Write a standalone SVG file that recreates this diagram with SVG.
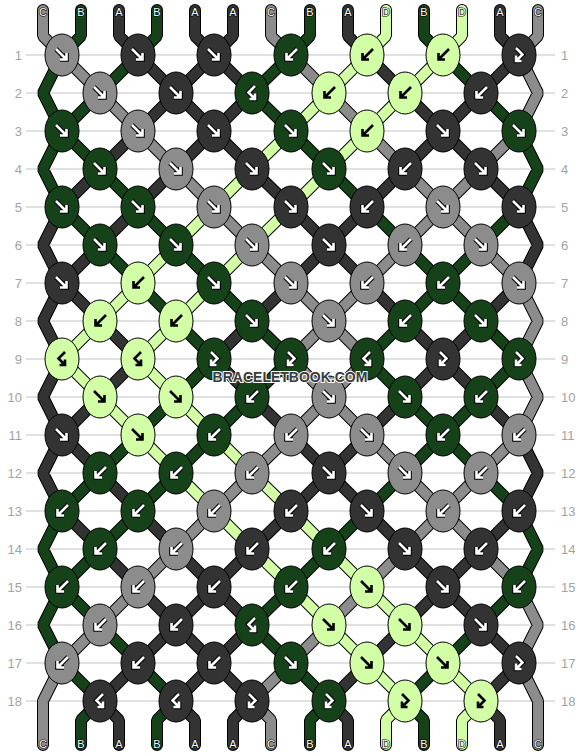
<svg xmlns="http://www.w3.org/2000/svg" xmlns:xlink="http://www.w3.org/1999/xlink" width="582" height="756" viewBox="0 0 582 756">
<style>
text{font-family:"Liberation Sans",Arial,sans-serif}
.rl{stroke:#c4c4c4;stroke-width:1.2}
.rn{font-size:13px;fill:#a3a3a3}
.rnl{text-anchor:end}
.o{fill:none;stroke:#000;stroke-width:12;stroke-linecap:round;stroke-linejoin:bevel}
.c{fill:none;stroke-width:10;stroke-linecap:round;stroke-linejoin:bevel}
.sA{stroke:#333333}.sB{stroke:#16421a}.sC{stroke:#8c8c8c}.sD{stroke:#d2ffa6}
ellipse{stroke:#000;stroke-width:1}
.eA{fill:#333333}.eB{fill:#16421a}.eC{fill:#8c8c8c}.eD{fill:#d2ffa6}
.ao{fill:none;stroke:#000;stroke-width:4.6}
.aw{fill:none;stroke:#fff;stroke-width:2.6}
.ak{fill:none;stroke:#000;stroke-width:2.6}
.lb{font-size:11px;fill:#fff;text-anchor:middle;stroke:#000;stroke-width:1.2;paint-order:stroke}
.wm{font-size:14px;font-weight:bold;fill:#3a3a3a;stroke:#fff;stroke-width:2;paint-order:stroke;text-anchor:middle}
</style>
<defs>
<path id="af" d="M-6-6L4.5 4.5M4.5-2V4.5H-2"/>
<path id="ab" d="M6-6L-4.5 4.5M-4.5-2V4.5H2"/>
<path id="afb" d="M-3-7L3.5-0.5L-3 6M-3 0.5V6H2.5"/>
<path id="abf" d="M3-7L-3.5-0.5L3 6M3 0.5V6H-2.5"/>
<g id="wf"><use href="#af" class="ao"/><use href="#af" class="aw"/></g>
<g id="wb"><use href="#ab" class="ao"/><use href="#ab" class="aw"/></g>
<g id="wfb"><use href="#afb" class="ao"/><use href="#afb" class="aw"/></g>
<g id="wbf"><use href="#abf" class="ao"/><use href="#abf" class="aw"/></g>
<use id="kf" href="#af" class="ak"/>
<use id="kb" href="#ab" class="ak"/>
<use id="kfb" href="#afb" class="ak"/>
<use id="kbf" href="#abf" class="ak"/>
<path id="pA" d="M119 10V36L138 55M195 10V36L214 55M233 10V36L214 55M348 10V36L367 55M500 10V36L519 55M100 701L119 720V745M176 701L195 720V745M252 701L233 720V745M329 701L348 720V745M481 701L500 720V745M62 207L43 245L62 283M62 283L43 321L62 359M62 359L43 397L62 435M62 435L43 473L62 511M519 207L538 245L519 283M519 435L538 473L519 511M138 55L176 93M214 55L176 93M214 55L252 93M367 55L405 93M519 55L481 93M176 93L138 131M176 93L214 131M252 93L214 131M405 93L443 131M481 93L443 131M138 131L100 169M214 131L176 169M214 131L252 169M443 131L405 169M443 131L481 169M100 169L62 207M176 169L138 207M252 169L291 207M405 169L367 207M481 169L519 207M138 207L100 245M291 207L329 245M367 207L329 245M100 245L62 283M329 245L291 283M329 245L367 283M62 283L100 321M291 283L252 321M367 283L405 321M519 283L481 321M100 321L138 359M252 321L214 359M405 321L443 359M481 321L443 359M138 359L100 397M214 359L252 397M443 359L405 397M443 359L481 397M100 397L62 435M252 397L291 435M405 397L367 435M481 397L519 435M62 435L100 473M291 435L329 473M367 435L329 473M100 473L138 511M329 473L291 511M329 473L367 511M62 511L100 549M138 511L176 549M291 511L252 549M367 511L405 549M519 511L481 549M100 549L138 587M176 549L214 587M252 549L214 587M405 549L443 587M481 549L443 587M138 587L176 625M214 587L176 625M214 587L252 625M443 587L405 625M443 587L481 625M176 625L138 663M176 625L214 663M252 625L214 663M405 625L367 663M481 625L519 663M138 663L100 701M214 663L176 701M214 663L252 701M367 663L329 701M519 663L481 701"/>
<path id="pB" d="M81 10V36L62 55M157 10V36L138 55M310 10V36L291 55M424 10V36L443 55M100 701L81 720V745M176 701L157 720V745M329 701L310 720V745M405 701L424 720V745M62 55L43 93L62 131M62 131L43 169L62 207M62 511L43 549L62 587M62 587L43 625L62 663M519 131L538 169L519 207M519 511L538 549L519 587M138 55L100 93M291 55L252 93M443 55L481 93M100 93L62 131M252 93L291 131M481 93L519 131M62 131L100 169M291 131L329 169M100 169L138 207M329 169L367 207M62 207L100 245M138 207L176 245M367 207L405 245M519 207L481 245M100 245L138 283M176 245L214 283M405 245L443 283M481 245L443 283M138 283L176 321M214 283L252 321M443 283L405 321M443 283L481 321M176 321L214 359M252 321L291 359M405 321L367 359M481 321L519 359M214 359L176 397M291 359L252 397M367 359L405 397M519 359L481 397M176 397L138 435M252 397L214 435M405 397L443 435M481 397L443 435M138 435L100 473M214 435L176 473M443 435L405 473M443 435L481 473M100 473L62 511M176 473L138 511M405 473L367 511M481 473L519 511M138 511L100 549M367 511L329 549M100 549L62 587M329 549L291 587M62 587L100 625M291 587L252 625M519 587L481 625M100 625L138 663M252 625L291 663M481 625L443 663M62 663L100 701M138 663L176 701M291 663L329 701M443 663L405 701"/>
<path id="pC" d="M43 10V36L62 55M271 10V36L291 55M538 10V36L519 55M252 701L271 720V745M62 663L43 701V745M519 55L538 93L519 131M519 283L538 321L519 359M519 359L538 397L519 435M519 587L538 625L519 663M519 663L538 701V745M62 55L100 93M291 55L329 93M100 93L138 131M329 93L367 131M138 131L176 169M367 131L405 169M519 131L481 169M176 169L214 207M405 169L443 207M481 169L443 207M214 207L252 245M443 207L405 245M443 207L481 245M252 245L291 283M405 245L367 283M481 245L519 283M291 283L329 321M367 283L329 321M329 321L291 359M329 321L367 359M291 359L329 397M367 359L329 397M329 397L291 435M329 397L367 435M291 435L252 473M367 435L405 473M519 435L481 473M252 473L214 511M405 473L443 511M481 473L443 511M214 511L176 549M443 511L405 549M443 511L481 549M176 549L138 587M405 549L367 587M481 549L519 587M138 587L100 625M367 587L329 625M100 625L62 663M329 625L291 663M291 663L252 701"/>
<path id="pD" d="M386 10V36L367 55M462 10V36L443 55M405 701L386 720V745M481 701L462 720V745M367 55L329 93M443 55L405 93M329 93L291 131M405 93L367 131M291 131L252 169M367 131L329 169M252 169L214 207M329 169L291 207M214 207L176 245M291 207L252 245M176 245L138 283M252 245L214 283M138 283L100 321M214 283L176 321M100 321L62 359M176 321L138 359M62 359L100 397M138 359L176 397M100 397L138 435M176 397L214 435M138 435L176 473M214 435L252 473M176 473L214 511M252 473L291 511M214 511L252 549M291 511L329 549M252 549L291 587M329 549L367 587M291 587L329 625M367 587L405 625M329 625L367 663M405 625L443 663M367 663L405 701M443 663L481 701"/>
</defs>
<rect width="582" height="756" fill="#fff"/>
<g id="rows">
<path class="rl" d="M26 55H555M26 93H555M26 131H555M26 169H555M26 207H555M26 245H555M26 283H555M26 321H555M26 359H555M26 397H555M26 435H555M26 473H555M26 511H555M26 549H555M26 587H555M26 625H555M26 663H555M26 701H555"/>
<g class="rn rnl">
<text x="22" y="59.5">1</text><text x="22" y="97.5">2</text><text x="22" y="135.5">3</text><text x="22" y="173.5">4</text><text x="22" y="211.5">5</text><text x="22" y="249.5">6</text><text x="22" y="287.5">7</text><text x="22" y="325.5">8</text><text x="22" y="363.5">9</text><text x="22" y="401.5">10</text><text x="22" y="439.5">11</text><text x="22" y="477.5">12</text><text x="22" y="515.5">13</text><text x="22" y="553.5">14</text><text x="22" y="591.5">15</text><text x="22" y="629.5">16</text><text x="22" y="667.5">17</text><text x="22" y="705.5">18</text>
</g>
<g class="rn">
<text x="561" y="59.5">1</text><text x="561" y="97.5">2</text><text x="561" y="135.5">3</text><text x="561" y="173.5">4</text><text x="561" y="211.5">5</text><text x="561" y="249.5">6</text><text x="561" y="287.5">7</text><text x="561" y="325.5">8</text><text x="561" y="363.5">9</text><text x="561" y="401.5">10</text><text x="561" y="439.5">11</text><text x="561" y="477.5">12</text><text x="561" y="515.5">13</text><text x="561" y="553.5">14</text><text x="561" y="591.5">15</text><text x="561" y="629.5">16</text><text x="561" y="667.5">17</text><text x="561" y="705.5">18</text>
</g>
</g>
<g id="connectors">
<use href="#pA" class="o"/><use href="#pB" class="o"/><use href="#pC" class="o"/><use href="#pD" class="o"/>
<use href="#pA" class="c sA"/><use href="#pB" class="c sB"/><use href="#pC" class="c sC"/><use href="#pD" class="c sD"/>
</g>
<g id="labels" class="lb">
<text x="43" y="16">C</text><text x="81" y="16">B</text><text x="119" y="16">A</text><text x="157" y="16">B</text><text x="195" y="16">A</text><text x="233" y="16">A</text><text x="271" y="16">C</text><text x="310" y="16">B</text><text x="348" y="16">A</text><text x="386" y="16">D</text><text x="424" y="16">B</text><text x="462" y="16">D</text><text x="500" y="16">A</text><text x="538" y="16">C</text>
<text x="43" y="748">C</text><text x="81" y="748">B</text><text x="119" y="748">A</text><text x="157" y="748">B</text><text x="195" y="748">A</text><text x="233" y="748">A</text><text x="271" y="748">C</text><text x="310" y="748">B</text><text x="348" y="748">A</text><text x="386" y="748">D</text><text x="424" y="748">B</text><text x="462" y="748">D</text><text x="500" y="748">A</text><text x="538" y="748">C</text>
</g>
<g id="knots">
<g id="k1-1" transform="translate(62 55)"><ellipse class="eC" rx="17" ry="21"/><use href="#wf"/></g>
<g id="k1-2" transform="translate(138 55)"><ellipse class="eA" rx="17" ry="21"/><use href="#wf"/></g>
<g id="k1-3" transform="translate(214 55)"><ellipse class="eA" rx="17" ry="21"/><use href="#wf"/></g>
<g id="k1-4" transform="translate(291 55)"><ellipse class="eB" rx="17" ry="21"/><use href="#wb"/></g>
<g id="k1-5" transform="translate(367 55)"><ellipse class="eD" rx="17" ry="21"/><use href="#kb"/></g>
<g id="k1-6" transform="translate(443 55)"><ellipse class="eD" rx="17" ry="21"/><use href="#kb"/></g>
<g id="k1-7" transform="translate(519 55)"><ellipse class="eA" rx="17" ry="21"/><use href="#wfb"/></g>
<g id="k2-1" transform="translate(100 93)"><ellipse class="eC" rx="17" ry="21"/><use href="#wf"/></g>
<g id="k2-2" transform="translate(176 93)"><ellipse class="eA" rx="17" ry="21"/><use href="#wf"/></g>
<g id="k2-3" transform="translate(252 93)"><ellipse class="eB" rx="17" ry="21"/><use href="#wbf"/></g>
<g id="k2-4" transform="translate(329 93)"><ellipse class="eD" rx="17" ry="21"/><use href="#kb"/></g>
<g id="k2-5" transform="translate(405 93)"><ellipse class="eD" rx="17" ry="21"/><use href="#kb"/></g>
<g id="k2-6" transform="translate(481 93)"><ellipse class="eA" rx="17" ry="21"/><use href="#wb"/></g>
<g id="k3-1" transform="translate(62 131)"><ellipse class="eB" rx="17" ry="21"/><use href="#wf"/></g>
<g id="k3-2" transform="translate(138 131)"><ellipse class="eC" rx="17" ry="21"/><use href="#wf"/></g>
<g id="k3-3" transform="translate(214 131)"><ellipse class="eA" rx="17" ry="21"/><use href="#wf"/></g>
<g id="k3-4" transform="translate(291 131)"><ellipse class="eB" rx="17" ry="21"/><use href="#wf"/></g>
<g id="k3-5" transform="translate(367 131)"><ellipse class="eD" rx="17" ry="21"/><use href="#kb"/></g>
<g id="k3-6" transform="translate(443 131)"><ellipse class="eA" rx="17" ry="21"/><use href="#wf"/></g>
<g id="k3-7" transform="translate(519 131)"><ellipse class="eB" rx="17" ry="21"/><use href="#wf"/></g>
<g id="k4-1" transform="translate(100 169)"><ellipse class="eB" rx="17" ry="21"/><use href="#wf"/></g>
<g id="k4-2" transform="translate(176 169)"><ellipse class="eC" rx="17" ry="21"/><use href="#wf"/></g>
<g id="k4-3" transform="translate(252 169)"><ellipse class="eA" rx="17" ry="21"/><use href="#wf"/></g>
<g id="k4-4" transform="translate(329 169)"><ellipse class="eB" rx="17" ry="21"/><use href="#wf"/></g>
<g id="k4-5" transform="translate(405 169)"><ellipse class="eA" rx="17" ry="21"/><use href="#wb"/></g>
<g id="k4-6" transform="translate(481 169)"><ellipse class="eA" rx="17" ry="21"/><use href="#wf"/></g>
<g id="k5-1" transform="translate(62 207)"><ellipse class="eB" rx="17" ry="21"/><use href="#wf"/></g>
<g id="k5-2" transform="translate(138 207)"><ellipse class="eB" rx="17" ry="21"/><use href="#wf"/></g>
<g id="k5-3" transform="translate(214 207)"><ellipse class="eC" rx="17" ry="21"/><use href="#wf"/></g>
<g id="k5-4" transform="translate(291 207)"><ellipse class="eA" rx="17" ry="21"/><use href="#wf"/></g>
<g id="k5-5" transform="translate(367 207)"><ellipse class="eA" rx="17" ry="21"/><use href="#wb"/></g>
<g id="k5-6" transform="translate(443 207)"><ellipse class="eC" rx="17" ry="21"/><use href="#wf"/></g>
<g id="k5-7" transform="translate(519 207)"><ellipse class="eA" rx="17" ry="21"/><use href="#wf"/></g>
<g id="k6-1" transform="translate(100 245)"><ellipse class="eB" rx="17" ry="21"/><use href="#wf"/></g>
<g id="k6-2" transform="translate(176 245)"><ellipse class="eB" rx="17" ry="21"/><use href="#wf"/></g>
<g id="k6-3" transform="translate(252 245)"><ellipse class="eC" rx="17" ry="21"/><use href="#wf"/></g>
<g id="k6-4" transform="translate(329 245)"><ellipse class="eA" rx="17" ry="21"/><use href="#wf"/></g>
<g id="k6-5" transform="translate(405 245)"><ellipse class="eC" rx="17" ry="21"/><use href="#wb"/></g>
<g id="k6-6" transform="translate(481 245)"><ellipse class="eC" rx="17" ry="21"/><use href="#wf"/></g>
<g id="k7-1" transform="translate(62 283)"><ellipse class="eA" rx="17" ry="21"/><use href="#wf"/></g>
<g id="k7-2" transform="translate(138 283)"><ellipse class="eD" rx="17" ry="21"/><use href="#kb"/></g>
<g id="k7-3" transform="translate(214 283)"><ellipse class="eB" rx="17" ry="21"/><use href="#wf"/></g>
<g id="k7-4" transform="translate(291 283)"><ellipse class="eC" rx="17" ry="21"/><use href="#wf"/></g>
<g id="k7-5" transform="translate(367 283)"><ellipse class="eC" rx="17" ry="21"/><use href="#wb"/></g>
<g id="k7-6" transform="translate(443 283)"><ellipse class="eB" rx="17" ry="21"/><use href="#wb"/></g>
<g id="k7-7" transform="translate(519 283)"><ellipse class="eC" rx="17" ry="21"/><use href="#wf"/></g>
<g id="k8-1" transform="translate(100 321)"><ellipse class="eD" rx="17" ry="21"/><use href="#kb"/></g>
<g id="k8-2" transform="translate(176 321)"><ellipse class="eD" rx="17" ry="21"/><use href="#kb"/></g>
<g id="k8-3" transform="translate(252 321)"><ellipse class="eB" rx="17" ry="21"/><use href="#wf"/></g>
<g id="k8-4" transform="translate(329 321)"><ellipse class="eC" rx="17" ry="21"/><use href="#wf"/></g>
<g id="k8-5" transform="translate(405 321)"><ellipse class="eB" rx="17" ry="21"/><use href="#wb"/></g>
<g id="k8-6" transform="translate(481 321)"><ellipse class="eB" rx="17" ry="21"/><use href="#wf"/></g>
<g id="k9-1" transform="translate(62 359)"><ellipse class="eD" rx="17" ry="21"/><use href="#kbf"/></g>
<g id="k9-2" transform="translate(138 359)"><ellipse class="eD" rx="17" ry="21"/><use href="#kbf"/></g>
<g id="k9-3" transform="translate(214 359)"><ellipse class="eB" rx="17" ry="21"/><use href="#wfb"/></g>
<g id="k9-4" transform="translate(291 359)"><ellipse class="eB" rx="17" ry="21"/><use href="#wfb"/></g>
<g id="k9-5" transform="translate(367 359)"><ellipse class="eB" rx="17" ry="21"/><use href="#wbf"/></g>
<g id="k9-6" transform="translate(443 359)"><ellipse class="eA" rx="17" ry="21"/><use href="#wfb"/></g>
<g id="k9-7" transform="translate(519 359)"><ellipse class="eB" rx="17" ry="21"/><use href="#wfb"/></g>
<g id="k10-1" transform="translate(100 397)"><ellipse class="eD" rx="17" ry="21"/><use href="#kf"/></g>
<g id="k10-2" transform="translate(176 397)"><ellipse class="eD" rx="17" ry="21"/><use href="#kf"/></g>
<g id="k10-3" transform="translate(252 397)"><ellipse class="eB" rx="17" ry="21"/><use href="#wb"/></g>
<g id="k10-4" transform="translate(329 397)"><ellipse class="eC" rx="17" ry="21"/><use href="#wf"/></g>
<g id="k10-5" transform="translate(405 397)"><ellipse class="eB" rx="17" ry="21"/><use href="#wf"/></g>
<g id="k10-6" transform="translate(481 397)"><ellipse class="eB" rx="17" ry="21"/><use href="#wb"/></g>
<g id="k11-1" transform="translate(62 435)"><ellipse class="eA" rx="17" ry="21"/><use href="#wf"/></g>
<g id="k11-2" transform="translate(138 435)"><ellipse class="eD" rx="17" ry="21"/><use href="#kf"/></g>
<g id="k11-3" transform="translate(214 435)"><ellipse class="eB" rx="17" ry="21"/><use href="#wb"/></g>
<g id="k11-4" transform="translate(291 435)"><ellipse class="eC" rx="17" ry="21"/><use href="#wb"/></g>
<g id="k11-5" transform="translate(367 435)"><ellipse class="eC" rx="17" ry="21"/><use href="#wf"/></g>
<g id="k11-6" transform="translate(443 435)"><ellipse class="eB" rx="17" ry="21"/><use href="#wb"/></g>
<g id="k11-7" transform="translate(519 435)"><ellipse class="eC" rx="17" ry="21"/><use href="#wb"/></g>
<g id="k12-1" transform="translate(100 473)"><ellipse class="eB" rx="17" ry="21"/><use href="#wb"/></g>
<g id="k12-2" transform="translate(176 473)"><ellipse class="eB" rx="17" ry="21"/><use href="#wb"/></g>
<g id="k12-3" transform="translate(252 473)"><ellipse class="eC" rx="17" ry="21"/><use href="#wb"/></g>
<g id="k12-4" transform="translate(329 473)"><ellipse class="eA" rx="17" ry="21"/><use href="#wf"/></g>
<g id="k12-5" transform="translate(405 473)"><ellipse class="eC" rx="17" ry="21"/><use href="#wf"/></g>
<g id="k12-6" transform="translate(481 473)"><ellipse class="eC" rx="17" ry="21"/><use href="#wb"/></g>
<g id="k13-1" transform="translate(62 511)"><ellipse class="eB" rx="17" ry="21"/><use href="#wb"/></g>
<g id="k13-2" transform="translate(138 511)"><ellipse class="eB" rx="17" ry="21"/><use href="#wb"/></g>
<g id="k13-3" transform="translate(214 511)"><ellipse class="eC" rx="17" ry="21"/><use href="#wb"/></g>
<g id="k13-4" transform="translate(291 511)"><ellipse class="eA" rx="17" ry="21"/><use href="#wb"/></g>
<g id="k13-5" transform="translate(367 511)"><ellipse class="eA" rx="17" ry="21"/><use href="#wf"/></g>
<g id="k13-6" transform="translate(443 511)"><ellipse class="eC" rx="17" ry="21"/><use href="#wb"/></g>
<g id="k13-7" transform="translate(519 511)"><ellipse class="eA" rx="17" ry="21"/><use href="#wb"/></g>
<g id="k14-1" transform="translate(100 549)"><ellipse class="eB" rx="17" ry="21"/><use href="#wb"/></g>
<g id="k14-2" transform="translate(176 549)"><ellipse class="eC" rx="17" ry="21"/><use href="#wb"/></g>
<g id="k14-3" transform="translate(252 549)"><ellipse class="eA" rx="17" ry="21"/><use href="#wb"/></g>
<g id="k14-4" transform="translate(329 549)"><ellipse class="eB" rx="17" ry="21"/><use href="#wb"/></g>
<g id="k14-5" transform="translate(405 549)"><ellipse class="eA" rx="17" ry="21"/><use href="#wf"/></g>
<g id="k14-6" transform="translate(481 549)"><ellipse class="eA" rx="17" ry="21"/><use href="#wb"/></g>
<g id="k15-1" transform="translate(62 587)"><ellipse class="eB" rx="17" ry="21"/><use href="#wb"/></g>
<g id="k15-2" transform="translate(138 587)"><ellipse class="eC" rx="17" ry="21"/><use href="#wb"/></g>
<g id="k15-3" transform="translate(214 587)"><ellipse class="eA" rx="17" ry="21"/><use href="#wb"/></g>
<g id="k15-4" transform="translate(291 587)"><ellipse class="eB" rx="17" ry="21"/><use href="#wb"/></g>
<g id="k15-5" transform="translate(367 587)"><ellipse class="eD" rx="17" ry="21"/><use href="#kf"/></g>
<g id="k15-6" transform="translate(443 587)"><ellipse class="eA" rx="17" ry="21"/><use href="#wf"/></g>
<g id="k15-7" transform="translate(519 587)"><ellipse class="eB" rx="17" ry="21"/><use href="#wb"/></g>
<g id="k16-1" transform="translate(100 625)"><ellipse class="eC" rx="17" ry="21"/><use href="#wb"/></g>
<g id="k16-2" transform="translate(176 625)"><ellipse class="eA" rx="17" ry="21"/><use href="#wb"/></g>
<g id="k16-3" transform="translate(252 625)"><ellipse class="eB" rx="17" ry="21"/><use href="#wbf"/></g>
<g id="k16-4" transform="translate(329 625)"><ellipse class="eD" rx="17" ry="21"/><use href="#kf"/></g>
<g id="k16-5" transform="translate(405 625)"><ellipse class="eD" rx="17" ry="21"/><use href="#kf"/></g>
<g id="k16-6" transform="translate(481 625)"><ellipse class="eA" rx="17" ry="21"/><use href="#wf"/></g>
<g id="k17-1" transform="translate(62 663)"><ellipse class="eC" rx="17" ry="21"/><use href="#wb"/></g>
<g id="k17-2" transform="translate(138 663)"><ellipse class="eA" rx="17" ry="21"/><use href="#wb"/></g>
<g id="k17-3" transform="translate(214 663)"><ellipse class="eA" rx="17" ry="21"/><use href="#wb"/></g>
<g id="k17-4" transform="translate(291 663)"><ellipse class="eB" rx="17" ry="21"/><use href="#wf"/></g>
<g id="k17-5" transform="translate(367 663)"><ellipse class="eD" rx="17" ry="21"/><use href="#kf"/></g>
<g id="k17-6" transform="translate(443 663)"><ellipse class="eD" rx="17" ry="21"/><use href="#kf"/></g>
<g id="k17-7" transform="translate(519 663)"><ellipse class="eA" rx="17" ry="21"/><use href="#wfb"/></g>
<g id="k18-1" transform="translate(100 701)"><ellipse class="eA" rx="17" ry="21"/><use href="#wbf"/></g>
<g id="k18-2" transform="translate(176 701)"><ellipse class="eA" rx="17" ry="21"/><use href="#wbf"/></g>
<g id="k18-3" transform="translate(252 701)"><ellipse class="eA" rx="17" ry="21"/><use href="#wfb"/></g>
<g id="k18-4" transform="translate(329 701)"><ellipse class="eB" rx="17" ry="21"/><use href="#wfb"/></g>
<g id="k18-5" transform="translate(405 701)"><ellipse class="eD" rx="17" ry="21"/><use href="#kfb"/></g>
<g id="k18-6" transform="translate(481 701)"><ellipse class="eD" rx="17" ry="21"/><use href="#kfb"/></g>
</g>
<text class="wm" x="290" y="382">BRACELETBOOK.COM</text>
</svg>
